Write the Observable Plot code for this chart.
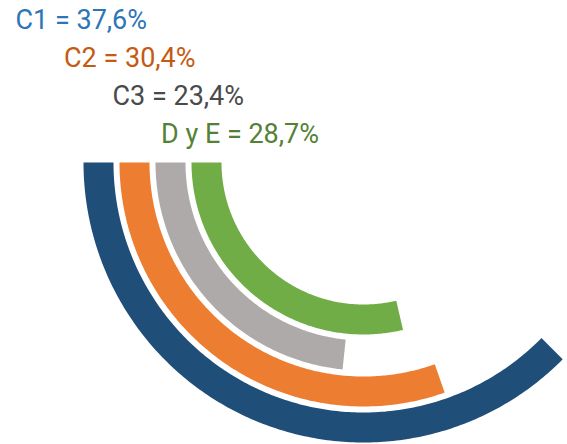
<!DOCTYPE html>
<html>
<head>
<meta charset="utf-8">
<script src="https://cdn.jsdelivr.net/npm/d3@7"></script>
<script src="https://cdn.jsdelivr.net/npm/@observablehq/plot@0.6"></script>
<style>
  html, body { margin: 0; padding: 0; background: #fff; }
  #chart { width: 567px; height: 444px; }
</style>
</head>
<body>
<div id="chart"></div>
<script>
// ---- data ----
const categories = ["C1", "C2", "C3", "D y E"];
const values = [37.6, 30.4, 23.4, 28.7];
const labels = ["C1 = 37,6%", "C2 = 30,4%", "C3 = 23,4%", "D y E = 28,7%"];

// ---- styles ----
const barColors = ["#1F4E79", "#ED7D31", "#AEAAAA", "#70AD47"];
const textColors = ["#2E75B6", "#C55A11", "#4A4A4A", "#548235"];

// ---- layout (pixels) ----
const W = 567, H = 444;
const cx = 363, cy = 162;          // centre of the rings
const outerMid = 265, ringStep = 36, bandWidth = 30;
const labelX0 = 15, labelXStep = 48.5, labelY0 = 28, labelYStep = 38;

// arc points derived from the values (100% = full circle, starting at 9 o'clock, sweeping downward)
const arcPoints = [];
categories.forEach((cat, i) => {
  const r = outerMid - i * ringStep;
  const sweep = values[i] / 100 * 2 * Math.PI;
  const n = 200;
  for (let k = 0; k <= n; k++) {
    const a = sweep * k / n;
    arcPoints.push({cat, x: -r * Math.cos(a), y: r * Math.sin(a)});
  }
});

const labelRows = labels.map((text, i) => ({
  text, cat: categories[i],
  x: labelX0 + i * labelXStep - cx,
  y: labelY0 + i * labelYStep - cy
}));

const chart = Plot.plot({
  width: W, height: H,
  margin: 0,
  style: {background: "#fff"},
  x: {domain: [-cx, W - cx], range: [0, W], axis: null},
  y: {domain: [-cy, H - cy], range: [0, H], axis: null},
  color: {domain: categories, range: barColors},
  marks: [
    Plot.line(arcPoints, {
      x: "x", y: "y", z: "cat", stroke: "cat",
      strokeWidth: bandWidth, strokeLinecap: "butt", strokeLinejoin: "round",
      curve: "linear"
    }),
    Plot.text(labelRows, {
      x: "x", y: "y", text: "text",
      fill: (d, i) => textColors[i],
      textAnchor: "start", lineAnchor: "bottom",
      fontSize: 27, fontFamily: "Roboto"
    })
  ]
});
document.getElementById("chart").appendChild(chart);
</script>
</body>
</html>
